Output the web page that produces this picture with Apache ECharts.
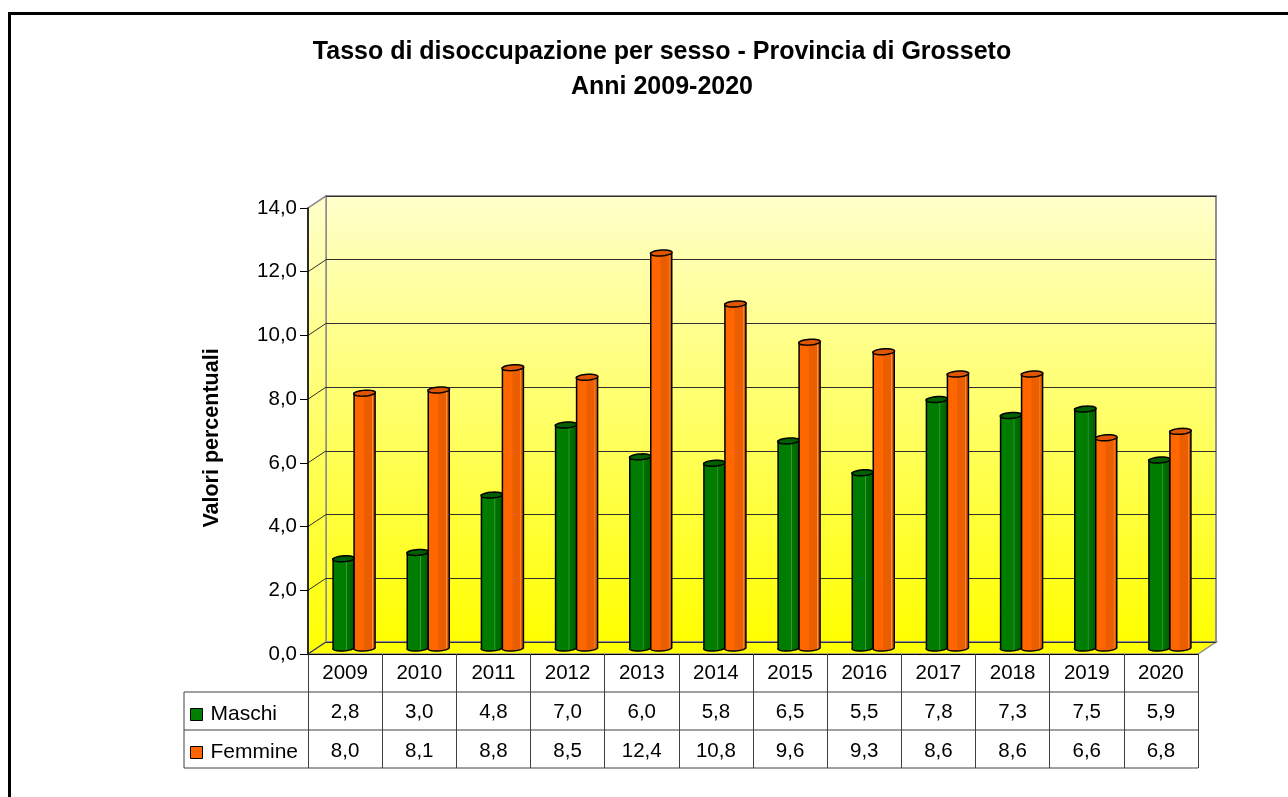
<!DOCTYPE html>
<html><head><meta charset="utf-8">
<script src="https://cdn.jsdelivr.net/npm/echarts@6/dist/echarts.min.js"></script>
<style>html,body{margin:0;padding:0;background:#fff}#c{width:1288px;height:797px}</style>
</head><body><div id="c"></div>
<script>
// ---- data ----
const years = ['2009','2010','2011','2012','2013','2014','2015','2016','2017','2018','2019','2020'];
const maschi = [2.8, 3.0, 4.8, 7.0, 6.0, 5.8, 6.5, 5.5, 7.8, 7.3, 7.5, 5.9];
const femmine = [8.0, 8.1, 8.8, 8.5, 12.4, 10.8, 9.6, 9.3, 8.6, 8.6, 6.6, 6.8];
const seriesNames = ['Maschi', 'Femmine'];
const yTicks = [0, 2, 4, 6, 8, 10, 12, 14];
const titleLines = ['Tasso di disoccupazione per sesso - Provincia di Grosseto', 'Anni 2009-2020'];
const yAxisName = 'Valori percentuali';

// ---- layout ----
const FONT = '"Liberation Sans", Arial, sans-serif';
const FRONT = {left: 308, top: 208, width: 890, height: 446};
const DX = 18, DY = -12;
const BACK = {left: FRONT.left + DX, top: FRONT.top + DY, width: FRONT.width, height: FRONT.height};
const MID = {left: FRONT.left + DX / 2, top: FRONT.top + DY / 2, width: FRONT.width, height: FRONT.height};
const YMIN = 0, YMAX = 14, YINT = 2;
const BAR_W = 21;
const ROW_H = 38;
const TABLE_LEFT = 184;
const fmt = v => v.toFixed(1).replace('.', ',');

const wallGrad = () => new echarts.graphic.LinearGradient(0, 0, 0, 1, [
  {offset: 0, color: '#FFFFCC'}, {offset: 1, color: '#FFFF00'}]);

function yFront(v) { return FRONT.top + FRONT.height * (1 - (v - YMIN) / (YMAX - YMIN)); }

function makeCyl(side, body, cap) {
  return function (params, api) {
    const i = api.value(0), v = api.value(1);
    const top = api.coord([i, v]);
    const base = api.coord([i, 0]);
    const cx = top[0] + side * BAR_W / 2;
    const rx = BAR_W / 2, ry = 3, k = 2.5;
    const P = (cy, t) => [cx + rx * Math.cos(t) + k * Math.sin(t), cy - ry * Math.sin(t)];
    const bodyPts = [[cx - rx, top[1]], [cx - rx, base[1]]];
    for (let s = 0; s <= 16; s++) bodyPts.push(P(base[1], Math.PI + Math.PI * s / 16));
    bodyPts.push([cx + rx, top[1]]);
    const capPts = [];
    for (let s = 0; s < 32; s++) capPts.push(P(top[1], 2 * Math.PI * s / 32));
    return {type: 'group', children: [
      {type: 'polygon', shape: {points: bodyPts},
       style: {fill: {type: 'linear', x: 0, y: 0, x2: 1, y2: 0, colorStops: body}, stroke: '#000', lineWidth: 1.5}},
      {type: 'polygon', shape: {points: capPts}, style: {fill: cap, stroke: '#000', lineWidth: 1.5}}
    ]};
  };
}

const greenStops = [
  {offset: 0, color: '#006a00'}, {offset: 0.1, color: '#007c00'}, {offset: 0.6, color: '#007c00'},
  {offset: 0.63, color: '#3aa03a'}, {offset: 0.67, color: '#007400'}, {offset: 1, color: '#005c00'}];
const orangeStops = [
  {offset: 0, color: '#ff6600'}, {offset: 0.45, color: '#ff6600'}, {offset: 0.5, color: '#ea5e00'},
  {offset: 0.82, color: '#ea5e00'}, {offset: 0.85, color: '#ff9a55'}, {offset: 0.88, color: '#e25a00'},
  {offset: 1, color: '#d45200'}];

// ---- decorative 3D frame pieces ----
const graphics = [];
graphics.push({type: 'rect', shape: {x: 9.5, y: 13.5, width: 1300, height: 800}, style: {fill: 'none', stroke: '#000', lineWidth: 3}, z: 100});
graphics.push({type: 'polygon', shape: {points: [[FRONT.left, FRONT.top], [BACK.left, BACK.top], [BACK.left, BACK.top + BACK.height], [FRONT.left, FRONT.top + FRONT.height]]},
  style: {fill: wallGrad(), stroke: '#909090', lineWidth: 1.5}, z: -1});
graphics.push({type: 'polygon', shape: {points: [[FRONT.left, FRONT.top + FRONT.height], [BACK.left, BACK.top + BACK.height], [BACK.left + BACK.width, BACK.top + BACK.height], [FRONT.left + FRONT.width, FRONT.top + FRONT.height]]},
  style: {fill: '#FFFF00', stroke: '#909090', lineWidth: 1.5}, z: -1});
yTicks.forEach(v => {
  const yf = yFront(v);
  graphics.push({type: 'line', shape: {x1: FRONT.left, y1: yf, x2: BACK.left, y2: yf + DY},
    style: {stroke: v === YMAX ? '#909090' : '#303030', lineWidth: v === YMAX ? 1.5 : 1}, z: 0});
});
const tTop = FRONT.top + FRONT.height;
[1, 2, 3].forEach(r => {
  graphics.push({type: 'line', shape: {x1: TABLE_LEFT, y1: tTop + r * ROW_H, x2: FRONT.left + FRONT.width, y2: tTop + r * ROW_H},
    style: {stroke: '#404040', lineWidth: 1}, z: 5});
});
graphics.push({type: 'line', shape: {x1: TABLE_LEFT, y1: tTop + ROW_H, x2: TABLE_LEFT, y2: tTop + 3 * ROW_H}, style: {stroke: '#404040', lineWidth: 1}, z: 5});
titleLines.forEach((t, i) => {
  graphics.push({type: 'text', x: 662, y: 52 + i * 35, style: {text: t, font: 'bold 25px ' + FONT, fill: '#000', textAlign: 'center', textVerticalAlign: 'middle'}, z: 10});
});
graphics.push({type: 'text', x: 212, y: 438, rotation: Math.PI / 2,
  style: {text: yAxisName, font: 'bold 21.5px ' + FONT, fill: '#000', textAlign: 'center', textVerticalAlign: 'middle'}, z: 10});

const chart = echarts.init(document.getElementById('c'), null, {renderer: 'canvas'});
chart.setOption({
  backgroundColor: '#fff',
  animation: false,
  graphic: graphics,
  legend: {
    orient: 'vertical', left: 190, top: tTop + ROW_H + 12, padding: 0,
    itemWidth: 12, itemHeight: 12, itemGap: ROW_H - 21,
    icon: 'rect',
    itemStyle: {borderColor: '#000', borderWidth: 1},
    textStyle: {fontFamily: FONT, fontSize: 21, color: '#000', lineHeight: 21, padding: [0, 0, 0, 3]},
    data: seriesNames
  },
  grid: [
    Object.assign({show: true, backgroundColor: wallGrad(), borderColor: '#909090', borderWidth: 2, z: -2}, BACK),
    Object.assign({show: false}, FRONT),
    Object.assign({show: false}, MID)
  ],
  xAxis: [
    {gridIndex: 0, type: 'category', data: years, show: false},
    {gridIndex: 1, type: 'category', data: years, boundaryGap: true,
      axisLine: {show: true, lineStyle: {color: '#000', width: 1}},
      axisTick: {show: true, length: 3 * ROW_H, interval: 0, lineStyle: {color: '#404040', width: 1}},
      axisLabel: {interval: 0, margin: 0, fontFamily: FONT, color: '#000',
        formatter: (val, idx) => '{y|' + val + '}\n{m|' + fmt(maschi[idx]) + '}\n{f|' + fmt(femmine[idx]) + '}',
        rich: {y: {fontSize: 20.5, lineHeight: ROW_H, fontFamily: FONT},
               m: {fontSize: 20.5, lineHeight: ROW_H + 3, fontFamily: FONT},
               f: {fontSize: 20.5, lineHeight: ROW_H - 1, fontFamily: FONT}}},
      z: 6},
    {gridIndex: 2, type: 'category', data: years, show: false}
  ],
  yAxis: [
    {gridIndex: 0, type: 'value', min: YMIN, max: YMAX, interval: YINT,
      axisLine: {show: false}, axisTick: {show: false}, axisLabel: {show: false},
      splitLine: {show: true, lineStyle: {color: '#303030', width: 1}}},
    {gridIndex: 1, type: 'value', min: YMIN, max: YMAX, interval: YINT,
      axisLine: {show: true, lineStyle: {color: '#000', width: 1.5}},
      axisTick: {show: true, length: 8, lineStyle: {color: '#000', width: 1}},
      axisLabel: {margin: 11, fontFamily: FONT, fontSize: 20.5, color: '#000', formatter: v => fmt(v)},
      splitLine: {show: false}, z: 6},
    {gridIndex: 2, type: 'value', min: YMIN, max: YMAX, interval: YINT, show: false, splitLine: {show: false}}
  ],
  series: [
    {name: seriesNames[0], type: 'custom', xAxisIndex: 2, yAxisIndex: 2, itemStyle: {color: '#008000'},
      data: maschi.map((v, i) => [i, v]), encode: {x: 0, y: 1}, renderItem: makeCyl(-1, greenStops, '#006000'), z: 3},
    {name: seriesNames[1], type: 'custom', xAxisIndex: 2, yAxisIndex: 2, itemStyle: {color: '#FF6600'},
      data: femmine.map((v, i) => [i, v]), encode: {x: 0, y: 1}, renderItem: makeCyl(1, orangeStops, '#e05500'), z: 3}
  ]
});
</script>
</body></html>
